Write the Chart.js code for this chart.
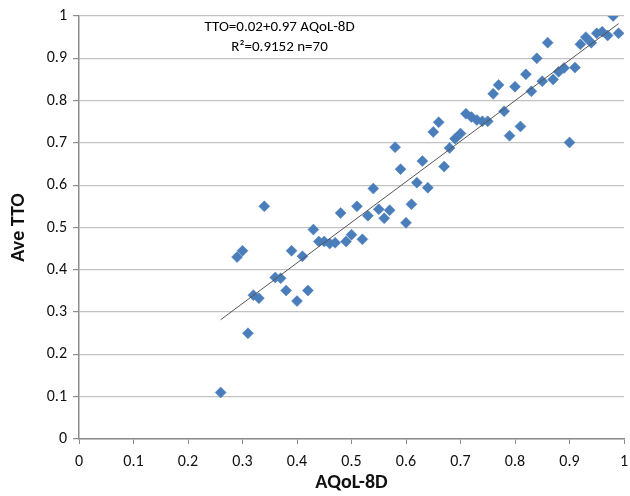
<!DOCTYPE html>
<html>
<head>
<meta charset="utf-8">
<script src="https://cdn.jsdelivr.net/npm/chart.js@4/dist/chart.umd.min.js"></script>
<style>
  html, body { margin: 0; padding: 0; background: #fff; }
  #wrap { width: 630px; height: 496px; }
</style>
</head>
<body>
<div id="wrap"><canvas id="c" width="630" height="496"></canvas></div>
<script>
// AQoL-8D (x) values
const aqolValues = [0.26, 0.29, 0.30, 0.31, 0.32, 0.33, 0.34, 0.36, 0.37, 0.38,
  0.39, 0.40, 0.41, 0.42, 0.43, 0.44, 0.45, 0.46, 0.47, 0.48,
  0.49, 0.50, 0.51, 0.52, 0.53, 0.54, 0.55, 0.56, 0.57, 0.58,
  0.59, 0.60, 0.61, 0.62, 0.63, 0.64, 0.65, 0.66, 0.67, 0.68,
  0.69, 0.70, 0.71, 0.72, 0.73, 0.74, 0.75, 0.76, 0.77, 0.78,
  0.79, 0.80, 0.81, 0.82, 0.83, 0.84, 0.85, 0.86, 0.87, 0.88,
  0.89, 0.90, 0.91, 0.92, 0.93, 0.94, 0.95, 0.96, 0.97, 0.98, 0.99];
// Average TTO (y) values
const ttoValues = [0.11, 0.43, 0.445, 0.25, 0.34, 0.333, 0.55, 0.382, 0.38, 0.351,
  0.445, 0.326, 0.432, 0.351, 0.495, 0.467, 0.467, 0.462, 0.464, 0.534,
  0.467, 0.483, 0.55, 0.472, 0.528, 0.592, 0.543, 0.522, 0.541, 0.69,
  0.638, 0.511, 0.555, 0.606, 0.657, 0.594, 0.726, 0.749, 0.644, 0.688,
  0.71, 0.722, 0.769, 0.761, 0.754, 0.751, 0.751, 0.816, 0.837, 0.775,
  0.717, 0.833, 0.739, 0.862, 0.822, 0.9, 0.846, 0.937, 0.85, 0.868,
  0.877, 0.701, 0.878, 0.933, 0.95, 0.937, 0.959, 0.963, 0.954, 1.0, 0.959];
// Trend line endpoints
const trendX = [0.26, 0.99];
const trendY = [0.282, 0.982];
// Axis ticks
const tickValues = [0, 0.1, 0.2, 0.3, 0.4, 0.5, 0.6, 0.7, 0.8, 0.9, 1];
// Annotation text
const annotationLines = ["TTO=0.02+0.97 AQoL-8D", "R\u00B2=0.9152 n=70"];
const annotationX = [0.368, 0.368];
const annotationY = [0.973, 0.925];

const FONT = "Carlito, Lato, 'Open Sans', sans-serif";

const points = aqolValues.map((x, i) => ({ x: x, y: ttoValues[i] }));
const trend = trendX.map((x, i) => ({ x: x, y: trendY[i] }));

const annotationPlugin = {
  id: 'annot',
  afterDraw(chart) {
    const ctx = chart.ctx;
    const xs = chart.scales.x, ys = chart.scales.y;
    ctx.save();
    ctx.fillStyle = '#000';
    ctx.font = "15px " + FONT;
    ctx.textAlign = 'center';
    ctx.textBaseline = 'middle';
    annotationLines.forEach((t, i) => {
      ctx.fillText(t, xs.getPixelForValue(annotationX[i]), ys.getPixelForValue(annotationY[i]));
    });
    ctx.restore();
  }
};

new Chart(document.getElementById('c'), {
  type: 'scatter',
  data: {
    datasets: [
      {
        label: 'Ave TTO',
        data: points,
        pointStyle: 'rectRot',
        pointRadius: 5.5,
        pointHoverRadius: 5.5,
        backgroundColor: '#4a7ebb',
        borderColor: '#4a7ebb',
        borderWidth: 0.5,
        order: 2
      },
      {
        label: 'Trend',
        data: trend,
        showLine: true,
        pointRadius: 0,
        borderColor: '#555555',
        borderWidth: 1,
        fill: false,
        order: 1
      }
    ]
  },
  options: {
    responsive: false,
    animation: false,
    events: [],
    layout: { padding: { top: 16, right: 5.5, left: 0, bottom: 0 } },
    plugins: { legend: { display: false }, tooltip: { enabled: false } },
    scales: {
      x: {
        type: 'linear',
        min: 0, max: 1,
        afterBuildTicks(s) { s.ticks = tickValues.map(v => ({ value: v })); },
        afterFit(s) { s.height = 57; s.paddingLeft = 0; s.paddingRight = 0; },
        grid: { drawOnChartArea: false, drawTicks: true, tickLength: 5, tickColor: '#8c8c8c' },
        border: { color: '#8c8c8c', width: 1.5 },
        ticks: { color: '#111', font: { family: FONT, size: 16 }, padding: 8, maxRotation: 0,
                 callback: v => String(v) },
        title: { display: true, text: 'AQoL-8D', color: '#111',
                 font: { family: FONT, size: 20, weight: 'bold' }, padding: { top: 0, bottom: 1 } }
      },
      y: {
        type: 'linear',
        min: 0, max: 1,
        afterBuildTicks(s) { s.ticks = tickValues.map(v => ({ value: v })); },
        afterFit(s) { s.width = 79; s.paddingTop = 0; s.paddingBottom = 0; },
        grid: { color: '#c3c3c3', lineWidth: 1.2, drawTicks: true, tickLength: 6, tickColor: '#8c8c8c' },
        border: { color: '#8c8c8c', width: 1.5 },
        ticks: { color: '#111', font: { family: FONT, size: 16 }, padding: 6,
                 callback: v => String(v) },
        title: { display: true, text: 'Ave TTO', color: '#111',
                 font: { family: FONT, size: 20, weight: 'bold' }, padding: { top: 7, bottom: 0 } }
      }
    }
  },
  plugins: [annotationPlugin]
});
</script>
</body>
</html>
